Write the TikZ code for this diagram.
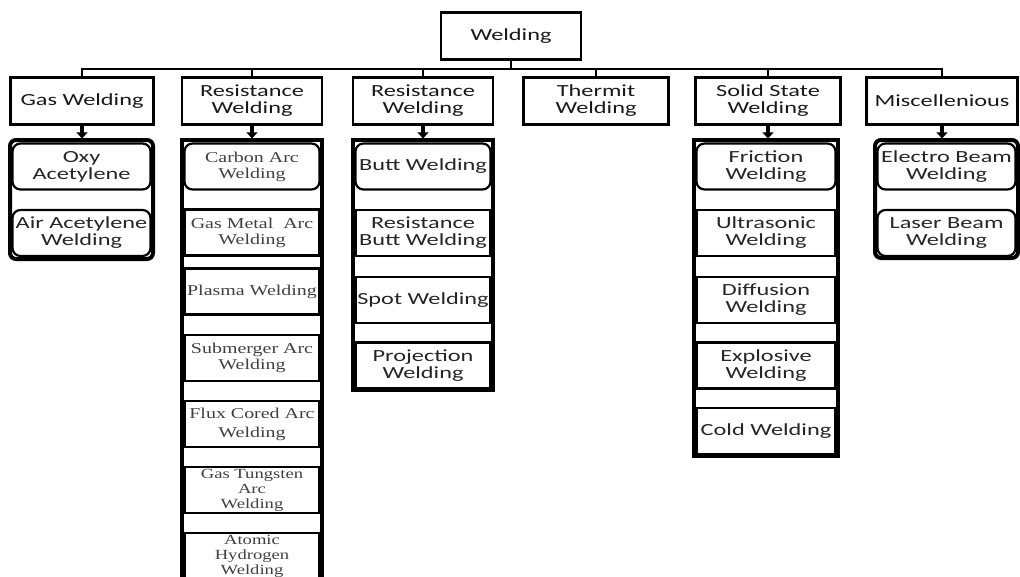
\documentclass[tikz,border=0pt]{standalone}
\usepackage{fontspec}
\newfontfamily\calfont[FakeStretch=1.43]{Carlito}
\newfontfamily\timesfont[FakeStretch=1.33]{Liberation Serif}
\usetikzlibrary{arrows.meta}

\tikzset{
  kind/.style={draw, line width=2.2pt, minimum height=47pt, inner sep=1pt, align=center,
    text=black!90, font=\calfont\fontsize{17}{17}\selectfont},
  cell/.style={draw, line width=2.2pt, fill=white, minimum height=46pt, inner sep=1pt,
    align=center, text=black!85, font=\calfont\fontsize{17}{17}\selectfont},
  rcell/.style={cell, rounded corners=8pt},
  scell/.style={cell, text=black!75, font=\timesfont\fontsize{15}{16}\selectfont},
  column/.style={line width=4pt},
  bus/.style={line width=2.4pt},
  feed/.style={line width=3.5pt, shorten >=4pt, -{Triangle[width=11pt,length=6pt]}},
}

\begin{document}
\begin{tikzpicture}[x=1pt, y=-1pt]
    \clip (0,0) rectangle (1020,576);

    % Caixa principal
    \node[kind, minimum width=140pt] (weld) at (511,36) {Welding};

    % Primeiro nivel
    \node[kind, minimum width=143pt] (gas) at (82,101) {Gas Welding};
    \node[kind, minimum width=140pt] (resa) at (252,101) {Resistance\\Welding};
    \node[kind, minimum width=140pt] (resb) at (423,101) {Resistance\\Welding};
    \node[kind, minimum width=145pt] (therm) at (596,101) {Thermit\\Welding};
    \node[kind, minimum width=145pt] (solid) at (768,101) {Solid State\\Welding};
    \node[kind, minimum width=151pt] (misc) at (942,101) {Miscellenious};

    % Barramento
    \foreach \k in {gas,resa,resb,therm,solid,misc}
        \draw[bus] (weld.south) -- ++(0,8.5) -| (\k.north);

    % Colunas
    \draw[column, rounded corners=6pt] (10,140) rectangle (153,259);
    \draw[column] (182,140) rectangle (322,600);
    \draw[column] (353,140) rectangle (493,390);
    \draw[column] (694,140) rectangle (838,456);
    \draw[column, rounded corners=6pt] (875,140) rectangle (1018,258);

    % Gas Welding
    \node[rcell, minimum width=138pt] (oxy) at (81.5,166.5) {Oxy\\Acetylene};
    \node[rcell, minimum width=138pt] (air) at (81.5,233) {Air Acetylene\\Welding};

    % Resistance Welding (arco)
    \node[scell, rounded corners=8pt, minimum width=135pt] (carbon) at (252,166.5) {Carbon Arc\\Welding};
    \node[scell, minimum width=135pt] (gmaw) at (252,232.5) {Gas Metal\ \ Arc\\Welding};
    \node[scell, minimum width=135pt] (plasma) at (252,291.5) {Plasma Welding};
    \node[scell, minimum width=135pt] (saw) at (252,358) {Submerger Arc\\Welding};
    \node[scell, minimum width=135pt] (flux) at (252,424) {Flux Cored Arc\\[3pt]Welding};
    \node[scell, minimum width=135pt, font=\timesfont\fontsize{14}{15}\selectfont] (gtaw) at (252,490) {Gas Tungsten\\Arc\\Welding};
    \node[scell, minimum width=135pt, font=\timesfont\fontsize{14}{15}\selectfont] (atomic) at (252,556) {Atomic\\Hydrogen\\Welding};

    % Resistance Welding
    \node[rcell, minimum width=135pt] (butt) at (423,166.5) {Butt Welding};
    \node[cell, minimum width=135pt] (rbutt) at (423,233) {Resistance\\Butt Welding};
    \node[cell, minimum width=135pt] (spot) at (423,300) {Spot Welding};
    \node[cell, minimum width=135pt] (proj) at (423,365.5) {Projection\\Welding};

    % Solid State Welding
    \node[rcell, minimum width=139pt] (frict) at (766,166.5) {Friction\\Welding};
    \node[cell, minimum width=139pt] (ultra) at (766,233) {Ultrasonic\\Welding};
    \node[cell, minimum width=139pt] (diff) at (766,300) {Diffusion\\Welding};
    \node[cell, minimum width=139pt] (explo) at (766,365.5) {Explosive\\Welding};
    \node[cell, minimum width=139pt] (cold) at (766,431) {Cold Welding};

    % Miscellenious
    \node[rcell, minimum width=138pt] (ebeam) at (946.5,166.5) {Electro Beam\\Welding};
    \node[rcell, minimum width=138pt] (lbeam) at (946.5,233) {Laser Beam\\Welding};

    % Setas
    \draw[feed] (gas.south) -- (gas.south |- oxy.north);
    \draw[feed] (resa.south) -- (resa.south |- carbon.north);
    \draw[feed] (resb.south) -- (resb.south |- butt.north);
    \draw[feed] (solid.south) -- (solid.south |- frict.north);
    \draw[feed] (misc.south) -- (misc.south |- ebeam.north);

\end{tikzpicture}
\end{document}
